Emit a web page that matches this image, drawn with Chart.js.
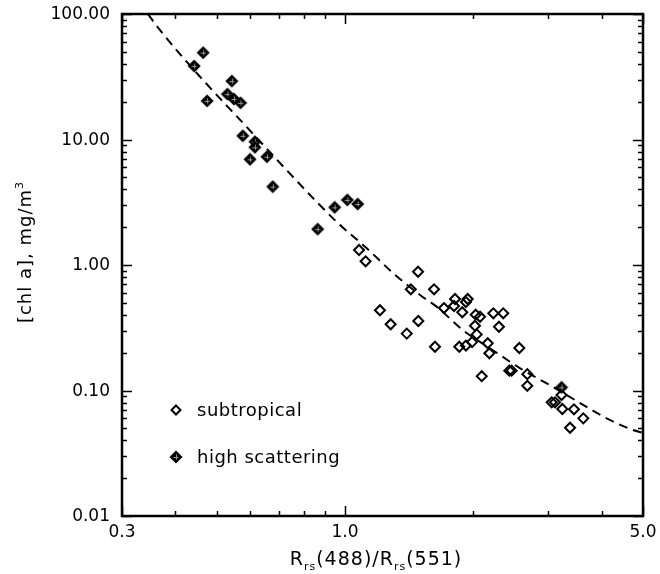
<!DOCTYPE html>
<html>
<head>
<meta charset="utf-8">
<script src="https://cdn.jsdelivr.net/npm/chart.js@4.4.0/dist/chart.umd.min.js"></script>
<style>
  html,body{margin:0;padding:0;background:#fff}
  #wrap{width:660px;height:574px;position:relative}
</style>
</head>
<body>
<div id="wrap"><canvas id="c" width="660" height="574"></canvas></div>
<script>
// subtropical stations (open diamonds)
var subX = [1.079,1.118,1.484,1.427,1.618,1.208,1.280,1.486,1.396,1.626,1.707,1.812,1.802,1.940,1.922,1.884,2.026,2.074,2.228,2.351,2.297,2.018,2.037,1.986,1.922,1.854,2.162,2.181,2.564,2.429,2.460,2.677,2.677,2.093,3.22,3.054,3.109,3.234,3.444,3.622,3.372];
var subY = [1.317,1.070,0.884,0.640,0.640,0.436,0.337,0.358,0.284,0.223,0.454,0.536,0.471,0.536,0.507,0.420,0.402,0.387,0.412,0.412,0.322,0.328,0.280,0.243,0.228,0.223,0.238,0.198,0.218,0.144,0.144,0.135,0.109,0.130,0.092,0.0805,0.0805,0.0712,0.0708,0.060,0.0505];
// high scattering stations (filled diamonds)
var hsX = [0.465,0.443,0.475,0.543,0.530,0.549,0.569,0.576,0.615,0.615,0.599,0.656,0.677,0.863,0.946,1.013,1.071,3.22];
var hsY = [49.2,38.5,20.3,29.2,23.0,21.0,19.6,10.7,9.6,8.67,6.95,7.29,4.21,1.93,2.88,3.30,3.06,0.106];
// dashed fit curve
var fitX = [0.345,0.368,0.457,0.588,0.704,0.858,0.974,1.125,1.296,1.50,1.64,1.89,2.22,2.57,3.07,3.56,4.11,4.74,5.0];
var fitY = [100,74.6,31.7,12.6,6.50,3.19,2.08,1.36,0.863,0.577,0.466,0.303,0.210,0.151,0.107,0.0794,0.060,0.0484,0.046];

var xTickVals = [0.3,1,5];
var xTickLabels = ['0.3','1.0','5.0'];
var xMinor = [0.4,0.5,0.6,0.7,0.8,0.9,2,3,4];
var yTickVals = [0.01,0.1,1,10,100];
var yTickLabels = ['0.01','0.10','1.00','10.00','100.00'];

var yMinor = [];
[0.01,0.1,1,10].forEach(function(d){ for(var k=2;k<=9;k++) yMinor.push(d*k); });

function pts(xs,ys){ return xs.map(function(x,i){ return {x:x,y:ys[i]}; }); }

function hsMarker(){
  var c = document.createElement('canvas'); c.width = 14; c.height = 14;
  var g = c.getContext('2d'), m = 7, r = 5.5;
  g.beginPath(); g.moveTo(m, m-r); g.lineTo(m+r, m); g.lineTo(m, m+r); g.lineTo(m-r, m); g.closePath();
  g.fillStyle = '#000'; g.fill(); g.lineWidth = 1.5; g.strokeStyle = '#000'; g.stroke();
  g.strokeStyle = '#9a9a9a'; g.lineWidth = 1;
  g.beginPath(); g.moveTo(m-2.5, m+0.5); g.lineTo(m+2.5, m+0.5); g.moveTo(m+0.5, m-2.5); g.lineTo(m+0.5, m+2.5); g.stroke();
  return c;
}
var hsImg = hsMarker();

var FONT = '"DejaVu Sans", sans-serif';

var frame = {
  id: 'frame',
  afterDraw: function(chart){
    var ctx = chart.ctx, a = chart.chartArea, xs = chart.scales.x, ys = chart.scales.y;
    ctx.save();
    ctx.strokeStyle = '#000'; ctx.fillStyle = '#000';
    ctx.lineWidth = 2.5;
    ctx.strokeRect(a.left, a.top, a.right - a.left, a.bottom - a.top);
    // inward ticks on all four sides
    function hTick(v, len){
      var p = Math.round(ys.getPixelForValue(v)) + 0.5;
      ctx.beginPath();
      ctx.moveTo(a.left, p); ctx.lineTo(a.left + len, p);
      ctx.moveTo(a.right, p); ctx.lineTo(a.right - len, p);
      ctx.stroke();
    }
    function vTick(v, len){
      var p = Math.round(xs.getPixelForValue(v)) + 0.5;
      ctx.beginPath();
      ctx.moveTo(p, a.bottom); ctx.lineTo(p, a.bottom - len);
      ctx.moveTo(p, a.top); ctx.lineTo(p, a.top + len);
      ctx.stroke();
    }
    ctx.lineWidth = 1.5;
    yTickVals.forEach(function(v){ hTick(v, 10); });
    yMinor.forEach(function(v){ hTick(v, 5); });
    xTickVals.forEach(function(v){ vTick(v, 10); });
    xMinor.forEach(function(v){ vTick(v, 5); });

    // tick labels
    ctx.font = '17px ' + FONT;
    ctx.textAlign = 'right'; ctx.textBaseline = 'middle';
    yTickVals.forEach(function(v, i){ ctx.fillText(yTickLabels[i], a.left - 12, ys.getPixelForValue(v) + 1); });
    ctx.textAlign = 'center'; ctx.textBaseline = 'alphabetic';
    xTickVals.forEach(function(v, i){ ctx.fillText(xTickLabels[i], xs.getPixelForValue(v), a.bottom + 21); });

    // x title with subscripts
    ctx.letterSpacing = '1px';
    var parts = [['R',0],['rs',1],['(488)/R',0],['rs',1],['(551)',0]];
    function fnt(sub){ return (sub ? '11px ' : '19px ') + FONT; }
    var w = 0;
    parts.forEach(function(p){ ctx.font = fnt(p[1]); w += ctx.measureText(p[0]).width; });
    var x0 = 376 - w/2;
    ctx.textAlign = 'left';
    parts.forEach(function(p){
      ctx.font = fnt(p[1]);
      ctx.fillText(p[0], x0, p[1] ? 570 : 565);
      x0 += ctx.measureText(p[0]).width;
    });

    // y title, rotated, with superscript
    ctx.save();
    ctx.translate(31, 252);
    ctx.rotate(-Math.PI/2);
    ctx.font = '18px ' + FONT;
    var t1 = '[chl a], mg/m';
    var w1 = ctx.measureText(t1).width;
    ctx.font = '11px ' + FONT;
    var w2 = ctx.measureText('3').width;
    var sx = -(w1 + w2)/2;
    ctx.font = '18px ' + FONT;
    ctx.fillText(t1, sx, 0);
    ctx.font = '11px ' + FONT;
    ctx.fillText('3', sx + w1, -8);
    ctx.restore();

    // legend
    ctx.letterSpacing = '0.5px';
    ctx.font = '18px ' + FONT;
    ctx.lineWidth = 2;
    ctx.beginPath();
    ctx.moveTo(176, 410-4.5); ctx.lineTo(180.5, 410); ctx.lineTo(176, 410+4.5); ctx.lineTo(171.5, 410); ctx.closePath();
    ctx.stroke();
    ctx.fillText('subtropical', 197, 416);
    ctx.drawImage(hsImg, 176-7, 457-7);
    ctx.fillText('high scattering', 197, 463);
    ctx.restore();
  }
};

new Chart(document.getElementById('c'), {
  type: 'scatter',
  data: {
    datasets: [
      {
        label: 'subtropical',
        data: pts(subX, subY),
        pointStyle: 'rectRot',
        pointRadius: 5,
        borderWidth: 2,
        borderColor: '#000',
        backgroundColor: 'rgba(0,0,0,0)',
        order: 2
      },
      {
        label: 'high scattering',
        data: pts(hsX, hsY),
        pointStyle: hsImg,
        order: 1
      },
      {
        label: 'fit',
        type: 'line',
        data: pts(fitX, fitY),
        borderColor: '#000',
        borderWidth: 2,
        borderDash: [9, 6],
        pointRadius: 0,
        cubicInterpolationMode: 'monotone',
        fill: false,
        order: 3
      }
    ]
  },
  options: {
    responsive: false,
    animation: false,
    devicePixelRatio: 1,
    layout: { padding: { left: 122, top: 14, right: 17, bottom: 58 } },
    scales: {
      x: { type: 'logarithmic', min: 0.3, max: 5, display: false },
      y: { type: 'logarithmic', min: 0.01, max: 100, display: false }
    },
    plugins: { legend: { display: false }, tooltip: { enabled: false } },
    events: []
  },
  plugins: [frame]
});
</script>
</body>
</html>
